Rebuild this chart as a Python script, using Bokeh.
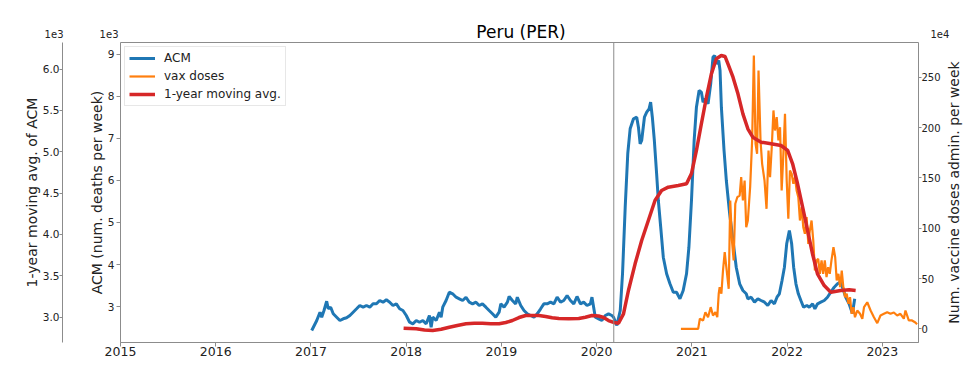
import math
from bokeh.plotting import figure
from bokeh.models import (Range1d, LinearAxis, FixedTicker, Span, Legend, LegendItem)
from bokeh.layouts import column, row
from bokeh.core.properties import value
from bokeh.embed import file_html
from bokeh.resources import INLINE

FONT = "DejaVu Sans"

# ---------------- data ----------------
acm_t = [2017.008, 2017.061, 2017.095, 2017.113, 2017.137, 2017.165, 2017.182, 2017.207, 2017.234, 2017.270,
         2017.304, 2017.339, 2017.374, 2017.409, 2017.443, 2017.479, 2017.513, 2017.548, 2017.583, 2017.618,
         2017.652, 2017.688, 2017.722, 2017.757, 2017.792, 2017.827, 2017.861, 2017.897, 2017.931, 2017.966,
         2018.001, 2018.036, 2018.070, 2018.106, 2018.140, 2018.175, 2018.210, 2018.244, 2018.262, 2018.279,
         2018.315, 2018.349, 2018.367, 2018.384, 2018.419, 2018.453, 2018.488, 2018.524, 2018.558, 2018.593,
         2018.628, 2018.662, 2018.697, 2018.733, 2018.767, 2018.801, 2018.837, 2018.871, 2018.906, 2018.941,
         2018.976, 2018.994, 2019.028, 2019.063, 2019.081, 2019.115, 2019.150, 2019.167, 2019.203, 2019.237,
         2019.272, 2019.307, 2019.342, 2019.376, 2019.412, 2019.446, 2019.481, 2019.516, 2019.551, 2019.585,
         2019.621, 2019.655, 2019.690, 2019.725, 2019.760, 2019.794, 2019.830, 2019.864, 2019.899, 2019.934,
         2019.951, 2019.986, 2020.021, 2020.055, 2020.091, 2020.125, 2020.160, 2020.178, 2020.212, 2020.248,
         2020.272, 2020.300, 2020.327, 2020.352, 2020.387, 2020.421, 2020.439, 2020.457, 2020.473, 2020.502,
         2020.526, 2020.551, 2020.567, 2020.585, 2020.606, 2020.630, 2020.648, 2020.676, 2020.700, 2020.735,
         2020.770, 2020.805, 2020.839, 2020.875, 2020.909, 2020.944, 2020.969, 2020.996, 2021.024, 2021.048,
         2021.076, 2021.100, 2021.118, 2021.142, 2021.170, 2021.198, 2021.222, 2021.240, 2021.257, 2021.282,
         2021.296, 2021.310, 2021.338, 2021.362, 2021.397, 2021.432, 2021.466, 2021.502, 2021.536, 2021.571,
         2021.588, 2021.623, 2021.658, 2021.693, 2021.727, 2021.763, 2021.797, 2021.832, 2021.867, 2021.894,
         2021.919, 2021.947, 2021.972, 2021.996, 2022.024, 2022.048, 2022.069, 2022.093, 2022.118, 2022.145,
         2022.173, 2022.208, 2022.233, 2022.268, 2022.292, 2022.320, 2022.354, 2022.390, 2022.424, 2022.459,
         2022.495, 2022.529, 2022.557, 2022.581, 2022.616, 2022.651, 2022.686, 2022.710]
acm_deaths = [2433, 2671, 2868, 2749, 2908, 3129, 2949, 2987, 2830, 2749,
              2671, 2711, 2735, 2790, 2868, 2949, 3027, 2987, 3027, 2987,
              3067, 3067, 3146, 3106, 3162, 3106, 3027, 3067, 2949, 2908,
              2790, 2630, 2592, 2671, 2630, 2671, 2592, 2790, 2511, 2749,
              2671, 2868, 2749, 2987, 3146, 3343, 3305, 3224, 3186, 3146,
              3224, 3106, 3067, 3106, 3027, 3067, 2987, 2908, 2830, 2749,
              2868, 3067, 2987, 3106, 3241, 3146, 3067, 3224, 3027, 2908,
              2830, 2790, 2749, 2830, 2949, 3067, 3067, 3106, 3067, 3224,
              3106, 3146, 3265, 3146, 3067, 3241, 3067, 3106, 3027, 3067,
              3224, 2749, 2710, 2671, 2790, 2830, 2790, 2749, 2552, 2908,
              3787, 5363, 6639, 7225, 7463, 7501, 7264, 6869, 6948, 7501,
              7620, 7701, 7858, 7501, 6948, 6156, 5522, 4809, 4175, 3780,
              3543, 3343, 3343, 3186, 3384, 3780, 4412, 5522, 6948, 7739,
              8136, 8095, 7858, 7938, 7819, 8295, 8927, 8967, 8770, 8848,
              8611, 7739, 6710, 5997, 5206, 4572, 3937, 3543, 3384, 3305,
              3186, 3224, 3106, 3186, 3146, 3106, 3027, 3146, 3067, 3224,
              3305, 3621, 3937, 4493, 4809, 4493, 3937, 3543, 3305, 3146,
              2987, 3027, 2987, 3067, 2949, 3067, 3106, 3146, 3224, 3343,
              3462, 3543, 3581, 3462, 3224, 3067, 2837, 3186]

ma_t = [2017.973, 2018.106, 2018.192, 2018.279, 2018.367, 2018.453, 2018.537, 2018.628, 2018.715, 2018.801,
        2018.889, 2018.976, 2019.046, 2019.115, 2019.185, 2019.255, 2019.324, 2019.394, 2019.464, 2019.533,
        2019.603, 2019.707, 2019.812, 2019.882, 2019.951, 2020.021, 2020.073, 2020.125, 2020.178, 2020.230,
        2020.282, 2020.334, 2020.404, 2020.473, 2020.543, 2020.613, 2020.682, 2020.752, 2020.857, 2020.944,
        2020.996, 2021.048, 2021.100, 2021.153, 2021.205, 2021.257, 2021.309, 2021.348, 2021.379, 2021.432,
        2021.484, 2021.536, 2021.588, 2021.640, 2021.727, 2021.832, 2021.936, 2022.006, 2022.058, 2022.110,
        2022.163, 2022.215, 2022.267, 2022.319, 2022.390, 2022.459, 2022.563, 2022.651, 2022.720]
ma_deaths = [2866, 2859, 2844, 2838, 2853, 2878, 2899, 2919, 2925, 2926,
             2919, 2919, 2935, 2959, 2995, 3020, 3020, 3020, 3008, 2992,
             2983, 2980, 2983, 2999, 3020, 3014, 2995, 2959, 2935, 2926,
             3040, 3322, 3645, 3927, 4169, 4411, 4532, 4572, 4592, 4613,
             4737, 5016, 5339, 5660, 5943, 6125, 6165, 6153, 6064, 5902,
             5701, 5459, 5278, 5176, 5116, 5097, 5076, 5016, 4855, 4613,
             4330, 4048, 3766, 3524, 3382, 3301, 3322, 3330, 3322]

vax_t = [2020.885, 2021.066, 2021.084, 2021.118, 2021.142, 2021.170, 2021.198, 2021.222, 2021.247, 2021.267,
         2021.282, 2021.292, 2021.310, 2021.327, 2021.345, 2021.362, 2021.387, 2021.403, 2021.421, 2021.439,
         2021.456, 2021.477, 2021.502, 2021.518, 2021.536, 2021.554, 2021.571, 2021.588, 2021.612, 2021.633,
         2021.651, 2021.669, 2021.685, 2021.700, 2021.721, 2021.738, 2021.763, 2021.784, 2021.805, 2021.821,
         2021.839, 2021.857, 2021.873, 2021.891, 2021.909, 2021.926, 2021.943, 2021.961, 2021.978, 2021.996,
         2022.013, 2022.030, 2022.048, 2022.066, 2022.083, 2022.100, 2022.118, 2022.135, 2022.153, 2022.170,
         2022.187, 2022.205, 2022.223, 2022.239, 2022.257, 2022.275, 2022.292, 2022.309, 2022.327, 2022.344,
         2022.362, 2022.379, 2022.396, 2022.414, 2022.431, 2022.448, 2022.466, 2022.487, 2022.505, 2022.521,
         2022.539, 2022.557, 2022.574, 2022.591, 2022.609, 2022.626, 2022.644, 2022.661, 2022.678, 2022.696,
         2022.713, 2022.737, 2022.766, 2022.790, 2022.808, 2022.842, 2022.877, 2022.912, 2022.947, 2022.981,
         2023.017, 2023.051, 2023.086, 2023.121, 2023.156, 2023.190, 2023.226, 2023.243, 2023.278, 2023.312,
         2023.347, 2023.365]
vax_doses_1e4 = [0, 0, 10.1, 8.4, 16.6, 11.6, 21.6, 13.3, 16.6, 11.6,
                 34.9, 41.4, 34.9, 58.0, 76.2, 61.3, 39.8, 127.6, 87.8, 68.0,
                 124.3, 130.8, 132.5, 150.7, 127.6, 147.4, 101.0, 107.7, 140.8, 187.2,
                 271.6, 183.9, 173.9, 256.7, 187.2, 164.0, 147.4, 119.3, 177.2, 150.7,
                 180.5, 217.0, 197.1, 210.3, 187.2, 200.4, 137.5, 173.9, 213.7, 147.4,
                 109.4, 157.4, 154.1, 144.1, 150.7, 137.5, 130.8, 107.7, 120.9, 101.0,
                 94.5, 111.0, 84.5, 97.8, 107.7, 87.8, 58.0, 68.0, 69.6, 54.7,
                 68.0, 54.7, 68.0, 51.4, 61.3, 54.7, 68.0, 81.2, 71.2, 48.1,
                 54.7, 41.4, 58.0, 41.4, 31.5, 34.9, 24.9, 31.5, 15.0, 21.6,
                 11.6, 18.3, 15.0, 10.1, 21.6, 26.5, 18.3, 11.6, 5.7, 13.3,
                 15.0, 16.6, 15.0, 16.3, 13.3, 15.0, 10.1, 18.3, 8.4, 8.4,
                 6.4, 4.7]

year_ticks = [2015, 2016, 2017, 2018, 2019, 2020, 2021, 2022, 2023]
acm_ticks = [3000, 4000, 5000, 6000, 7000, 8000, 9000]
ma_ticks = [3000, 3500, 4000, 4500, 5000, 5500, 6000]
vax_ticks = [0, 50, 100, 150, 200, 250]
pandemic_start = 2020.18

title_text = "Peru (PER)"
acm_label = "ACM (num. deaths per week)"
ma_label = "1-year moving avg. of ACM"
vax_label = "Num. vaccine doses admin. per week"

# ---------------- layout constants ----------------
W = 968
HDR_H = 41
FRAME_L, FRAME_R = 120, 921
FRAME_H = 300
BOTTOM = 33
RIGHT_TICKS = 22          # room for the right tick labels
MAIN_H = 1 + FRAME_H + BOTTOM
MAIN_W = FRAME_R + RIGHT_TICKS
RW = W - MAIN_W           # strip holding the right axis title

X0, X1 = 2015.0, 2023.38
ACM0, ACM1 = 2148, 9276

AX_COL = "#8c8c8c"
TXT = "#222222"


def no_align(fig):
    try:
        fig.frame_align = False
    except Exception:
        pass


# ---------------- header (title + scale offsets) ----------------
hdr = figure(width=W, height=HDR_H, output_backend="svg", toolbar_location=None,
             x_range=Range1d(0, W), y_range=Range1d(HDR_H, 0),
             x_axis_type=None, y_axis_type=None, min_border=0)
no_align(hdr)
hdr.outline_line_color = None
hdr.xgrid.visible = False
hdr.ygrid.visible = False
hdr.text(x=[(FRAME_L + FRAME_R) / 2], y=[31.5], text=[title_text], text_align=value("center"),
         text_baseline=value("middle"), text_font=value(FONT), text_font_size=value("17px"),
         text_color="black")
hdr.text(x=[FRAME_L - 2, FRAME_L - 57], y=[33.5, 33.5], text=["1e3", "1e3"], text_align=value("right"),
         text_baseline=value("middle"), text_font=value(FONT), text_font_size=value("10px"),
         text_color=TXT)
hdr.text(x=[FRAME_R + 9], y=[33.5], text=["1e4"], text_align=value("left"),
         text_baseline=value("middle"), text_font=value(FONT), text_font_size=value("10px"),
         text_color=TXT)

# ---------------- main figure ----------------
p = figure(width=MAIN_W, height=MAIN_H, output_backend="svg", toolbar_location=None,
           x_range=Range1d(X0, X1), y_range=Range1d(ACM0, ACM1),
           min_border_left=FRAME_L, min_border_right=RIGHT_TICKS, min_border_top=1,
           min_border_bottom=BOTTOM)
no_align(p)
p.extra_y_ranges = {"ma": Range1d(2693, 6322), "vax": Range1d(-13.5, 284.5)}
p.xgrid.visible = False
p.ygrid.visible = False
p.outline_line_color = AX_COL
p.outline_line_width = 1


def style_axis(ax, tick_size="10.5px"):
    ax.axis_line_color = AX_COL
    ax.major_tick_line_color = AX_COL
    ax.minor_tick_line_color = None
    ax.major_tick_out = 4
    ax.major_tick_in = 0
    ax.major_label_text_font = FONT
    ax.major_label_text_font_size = tick_size
    ax.major_label_text_color = TXT
    ax.axis_label_text_font = FONT
    ax.axis_label_text_font_size = "14px"
    ax.axis_label_text_font_style = "normal"
    ax.axis_label_text_color = TXT


# x axis
xa = p.xaxis[0]
xa.ticker = FixedTicker(ticks=year_ticks)
xa.major_label_overrides = {y: str(y) for y in year_ticks}
style_axis(xa, "12.5px")
xa.major_label_standoff = 0

# inner left (ACM)
ya = p.yaxis[0]
ya.ticker = FixedTicker(ticks=acm_ticks)
ya.major_label_overrides = {v: str(v // 1000) for v in acm_ticks}
style_axis(ya)
ya.axis_line_color = None
ya.major_label_standoff = 2
ya.axis_label = acm_label
ya.axis_label_standoff = 0

# spacer axis between the two left axes
sp = LinearAxis(ticker=FixedTicker(ticks=[5000]), major_label_overrides={5000: ""},
                axis_line_color=None, major_tick_line_color=None, minor_tick_line_color=None,
                major_tick_out=23, major_tick_in=0, major_label_standoff=0)
p.add_layout(sp, "left")

# outer left (moving average)
ma_ax = LinearAxis(y_range_name="ma", ticker=FixedTicker(ticks=ma_ticks),
                   major_label_overrides={v: "%.1f" % (v / 1000) for v in ma_ticks})
style_axis(ma_ax)
ma_ax.major_tick_out = 3
ma_ax.major_label_standoff = 0
ma_ax.axis_label = ma_label
ma_ax.axis_label_standoff = 0
p.add_layout(ma_ax, "left")

# right (vaccines) - title drawn in the side strip
va = LinearAxis(y_range_name="vax", ticker=FixedTicker(ticks=vax_ticks),
                major_label_overrides={v: str(v) for v in vax_ticks})
style_axis(va, "10px")
va.axis_line_color = None
va.major_tick_out = 3
va.major_label_standoff = 0
p.add_layout(va, "right")

# lines
r_acm = p.line(acm_t[:len(acm_deaths)], acm_deaths[:len(acm_t)], line_color="#1f77b4", line_width=3)
r_vax = p.line(vax_t[:len(vax_doses_1e4)], vax_doses_1e4[:len(vax_t)], line_color="#ff7f0e",
               line_width=2.2, y_range_name="vax")
r_ma = p.line(ma_t[:len(ma_deaths)], ma_deaths[:len(ma_t)], line_color="#d62728", line_width=3.5,
              y_range_name="ma")

p.add_layout(Span(location=pandemic_start, dimension="height", line_color=AX_COL, line_width=1))

legend = Legend(items=[LegendItem(label="ACM", renderers=[r_acm]),
                       LegendItem(label="vax doses", renderers=[r_vax]),
                       LegendItem(label="1-year moving avg.", renderers=[r_ma])],
                location="top_left", label_text_font=FONT, label_text_font_size="12px",
                label_text_color=TXT, glyph_width=26, glyph_height=14, label_height=14,
                spacing=4, padding=4, margin=4, label_standoff=9,
                border_line_color="#d0d0d0", background_fill_alpha=0.85)
p.add_layout(legend)

# ---------------- right strip with the vaccine axis title ----------------
rfig = figure(width=RW, height=MAIN_H, output_backend="svg", toolbar_location=None,
              x_range=Range1d(0, RW), y_range=Range1d(0, MAIN_H),
              x_axis_type=None, y_axis_type=None, min_border=0)
no_align(rfig)
rfig.outline_line_color = None
rfig.xgrid.visible = False
rfig.ygrid.visible = False
rfig.text(x=[10.5], y=[MAIN_H - 1 - FRAME_H / 2], text=[vax_label], angle=math.pi / 2,
          text_align=value("center"), text_baseline=value("alphabetic"), text_font=value(FONT),
          text_font_size=value("14px"), text_color=TXT)

layout = column(hdr, row(p, rfig, spacing=0), spacing=0)
open("out.html", "w").write(file_html(layout, INLINE))
